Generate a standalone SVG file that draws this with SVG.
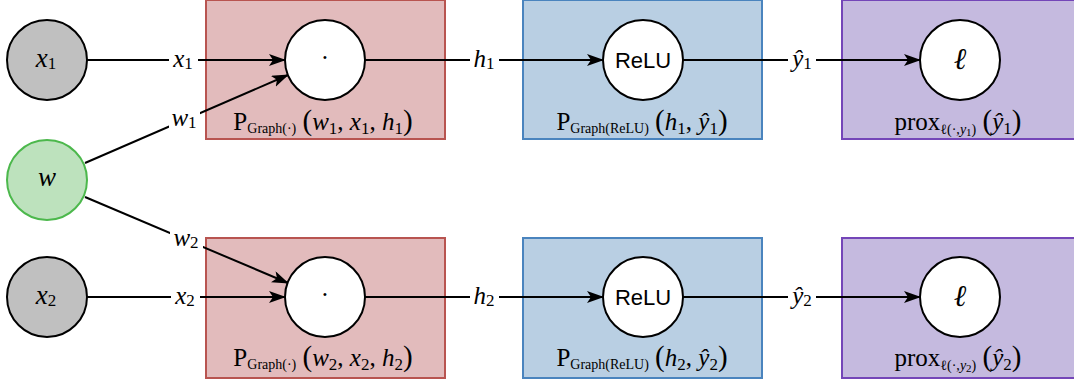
<svg xmlns="http://www.w3.org/2000/svg" width="1074" height="383" viewBox="0 0 1074 383">
<style>
.box{stroke-width:2}
.red{fill:#e2bbbc;stroke:#b85450}
.blue{fill:#b9cfe3;stroke:#4a84be}
.purple{fill:#c5badf;stroke:#7446b8}
.node{stroke:#000;stroke-width:2}
.gray{fill:#c0c0c0}
.white{fill:#fff}
.green{fill:#bde2bd;stroke:#4cb84c}
.edge{stroke:#000;stroke-width:2;fill:none}
.bg{fill:#fff}
text{font-family:"Liberation Serif","DejaVu Serif",serif;fill:#000}
.m{font-size:25px;text-anchor:middle;dominant-baseline:central}
.n{font-size:27px}
.ell{font-size:30px}
.lbl{font-size:25px;text-anchor:middle}
.i{font-style:italic}
.s{font-size:17px}
.ss{font-size:14px}
.sss{font-size:11px}
.par{font-size:29px}
.sans{font-family:"Liberation Sans",Arial,sans-serif;font-size:22px;text-anchor:middle;dominant-baseline:central}
</style>
<defs>
<marker id="arr" markerUnits="userSpaceOnUse" markerWidth="17" markerHeight="12" viewBox="0 0 17 12" refX="16" refY="6" orient="auto">
<path d="M0,0 L17,6 L0,12 L4,6 Z" fill="#000"/>
</marker>
</defs>

<g id="box-dot1"><rect class="box red" x="206" y="0" width="239" height="139"/></g>
<g id="box-relu1"><rect class="box blue" x="523" y="0" width="239" height="139"/></g>
<g id="box-loss1"><rect class="box purple" x="842" y="0" width="240" height="139"/></g>
<g id="box-dot2"><rect class="box red" x="206" y="238" width="239" height="140"/></g>
<g id="box-relu2"><rect class="box blue" x="523" y="238" width="239" height="140"/></g>
<g id="box-loss2"><rect class="box purple" x="842" y="238" width="240" height="140"/></g>

<g id="connectors">
<line class="edge" x1="87" y1="60" x2="285" y2="60" marker-end="url(#arr)"/>
<line class="edge" x1="85" y1="163" x2="288" y2="75" marker-end="url(#arr)"/>
<line class="edge" x1="85" y1="197" x2="288" y2="283" marker-end="url(#arr)"/>
<line class="edge" x1="87" y1="297" x2="285" y2="297" marker-end="url(#arr)"/>
<line class="edge" x1="365" y1="60" x2="603" y2="60" marker-end="url(#arr)"/>
<line class="edge" x1="365" y1="297" x2="603" y2="297" marker-end="url(#arr)"/>
<line class="edge" x1="683" y1="60" x2="920" y2="60" marker-end="url(#arr)"/>
<line class="edge" x1="683" y1="297" x2="920" y2="297" marker-end="url(#arr)"/>
<rect class="bg" x="169" y="48" width="29" height="24"/>
<text class="m" x="183" y="58"><tspan class="i">x</tspan><tspan class="s" dy="5">1</tspan></text>
<rect class="bg" x="169" y="108" width="31" height="24"/>
<text class="m" x="184" y="117"><tspan class="i">w</tspan><tspan class="s" dy="5">1</tspan></text>
<rect class="bg" x="170" y="228" width="33" height="24"/>
<text class="m" x="186" y="237"><tspan class="i">w</tspan><tspan class="s" dy="5">2</tspan></text>
<rect class="bg" x="171" y="285" width="29" height="24"/>
<text class="m" x="185" y="295"><tspan class="i">x</tspan><tspan class="s" dy="5">2</tspan></text>
<rect class="bg" x="470" y="47" width="29" height="26"/>
<text class="m" x="484" y="58"><tspan class="i">h</tspan><tspan class="s" dy="5">1</tspan></text>
<rect class="bg" x="470" y="284" width="29" height="26"/>
<text class="m" x="484" y="295"><tspan class="i">h</tspan><tspan class="s" dy="5">2</tspan></text>
<rect class="bg" x="788" y="45" width="28" height="30"/>
<text class="m" x="802" y="58"><tspan class="i">ŷ</tspan><tspan class="s" dy="5">1</tspan></text>
<rect class="bg" x="788" y="282" width="28" height="30"/>
<text class="m" x="802" y="295"><tspan class="i">ŷ</tspan><tspan class="s" dy="5">2</tspan></text>
</g>

<g id="node-x1"><circle class="node gray" cx="47" cy="60" r="40"/><text class="m n" x="46" y="58"><tspan class="i">x</tspan><tspan class="s" dy="5">1</tspan></text></g>
<g id="node-w"><circle class="node green" cx="47" cy="180" r="40"/><text class="m n i" x="47" y="177">w</text></g>
<g id="node-x2"><circle class="node gray" cx="47" cy="297" r="40"/><text class="m n" x="46" y="295"><tspan class="i">x</tspan><tspan class="s" dy="5">2</tspan></text></g>

<g id="node-dot1"><circle class="node white" cx="325" cy="60" r="40"/><text class="m" x="325" y="57">·</text>
<text class="lbl" x="323" y="130">P<tspan class="ss" dy="3">Graph(·)</tspan><tspan dy="-3"> </tspan><tspan class="par">(</tspan><tspan class="i">w</tspan><tspan class="s" dy="4">1</tspan><tspan dy="-4">, </tspan><tspan class="i">x</tspan><tspan class="s" dy="4">1</tspan><tspan dy="-4">, </tspan><tspan class="i">h</tspan><tspan class="s" dy="4">1</tspan><tspan class="par" dy="-4">)</tspan></text></g>
<g id="node-relu1"><circle class="node white" cx="643" cy="60" r="40"/><text class="sans" x="643" y="60">ReLU</text>
<text class="lbl" x="642" y="130">P<tspan class="ss" dy="3">Graph(ReLU)</tspan><tspan dy="-3"> </tspan><tspan class="par">(</tspan><tspan class="i">h</tspan><tspan class="s" dy="4">1</tspan><tspan dy="-4">, </tspan><tspan class="i">ŷ</tspan><tspan class="s" dy="4">1</tspan><tspan class="par" dy="-4">)</tspan></text></g>
<g id="node-loss1"><circle class="node white" cx="960" cy="60" r="40"/><text class="m ell i" x="960" y="58">ℓ</text>
<text class="lbl" x="958" y="130">prox<tspan class="ss" dy="4">ℓ(·,</tspan><tspan class="ss i">y</tspan><tspan class="sss" dy="2">1</tspan><tspan class="ss" dy="-2">)</tspan><tspan dy="-4"> </tspan><tspan class="par">(</tspan><tspan class="i">ŷ</tspan><tspan class="s" dy="4">1</tspan><tspan class="par" dy="-4">)</tspan></text></g>

<g id="node-dot2"><circle class="node white" cx="325" cy="297" r="40"/><text class="m" x="325" y="294">·</text>
<text class="lbl" x="323" y="366">P<tspan class="ss" dy="3">Graph(·)</tspan><tspan dy="-3"> </tspan><tspan class="par">(</tspan><tspan class="i">w</tspan><tspan class="s" dy="4">2</tspan><tspan dy="-4">, </tspan><tspan class="i">x</tspan><tspan class="s" dy="4">2</tspan><tspan dy="-4">, </tspan><tspan class="i">h</tspan><tspan class="s" dy="4">2</tspan><tspan class="par" dy="-4">)</tspan></text></g>
<g id="node-relu2"><circle class="node white" cx="643" cy="297" r="40"/><text class="sans" x="643" y="297">ReLU</text>
<text class="lbl" x="642" y="366">P<tspan class="ss" dy="3">Graph(ReLU)</tspan><tspan dy="-3"> </tspan><tspan class="par">(</tspan><tspan class="i">h</tspan><tspan class="s" dy="4">2</tspan><tspan dy="-4">, </tspan><tspan class="i">ŷ</tspan><tspan class="s" dy="4">2</tspan><tspan class="par" dy="-4">)</tspan></text></g>
<g id="node-loss2"><circle class="node white" cx="960" cy="297" r="40"/><text class="m ell i" x="960" y="295">ℓ</text>
<text class="lbl" x="958" y="366">prox<tspan class="ss" dy="4">ℓ(·,</tspan><tspan class="ss i">y</tspan><tspan class="sss" dy="2">2</tspan><tspan class="ss" dy="-2">)</tspan><tspan dy="-4"> </tspan><tspan class="par">(</tspan><tspan class="i">ŷ</tspan><tspan class="s" dy="4">2</tspan><tspan class="par" dy="-4">)</tspan></text></g>
</svg>
